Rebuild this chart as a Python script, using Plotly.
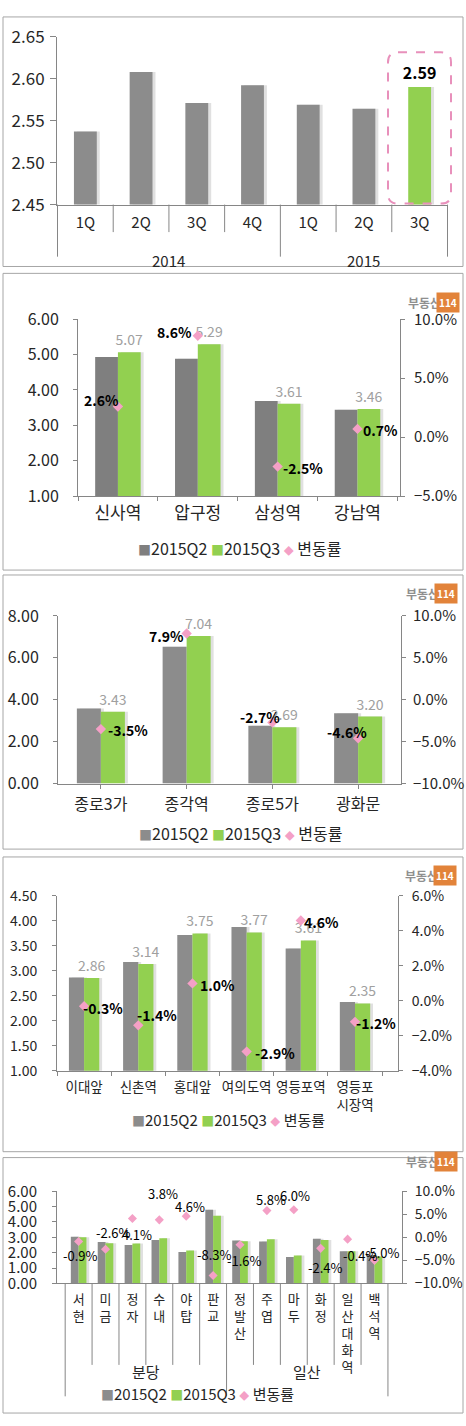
import plotly.graph_objects as go

W, H = 466, 1426
FONT = "Noto Sans CJK KR"
TXT = "#262626"
AXIS = "#868686"
BORDER = "#a6a6a6"
GRAY = "#8c8c8c"
GRAY_DARK = "#7f7f7f"
GREEN = "#92d050"
PINK = "#f4a0c6"
VALUE_GRAY = "#a0a0a0"
SHADOW = "rgba(0,0,0,0.12)"
HIGHLIGHT = "#e890bb"
LOGO_ORANGE = "#e2833a"


def px(x):
    # pixel from left -> paper x
    return x / W


def py(y):
    # pixel from top -> paper y
    return 1 - y / H


# ─────────────────────────────────────────────────────────────────────────────
# data
# ─────────────────────────────────────────────────────────────────────────────

# panel 1 : quarterly overall level
trend_keys = ["2014 1Q", "2014 2Q", "2014 3Q", "2014 4Q", "2015 1Q", "2015 2Q", "2015 3Q"]
trend_ticks = ["1Q", "2Q", "3Q", "4Q", "1Q", "2Q", "3Q"]
trend_years = ["2014", "2015"]
trend_values = [2.537, 2.608, 2.571, 2.592, 2.569, 2.564, 2.59]

# panel 2 : 강남권
gangnam_names = ["신사역", "압구정", "삼성역", "강남역"]
gangnam_q2 = [4.93, 4.88, 3.69, 3.44]
gangnam_q3 = [5.07, 5.29, 3.61, 3.46]
gangnam_rate = [2.6, 8.6, -2.5, 0.7]

# panel 3 : 도심권
dosim_names = ["종로3가", "종각역", "종로5가", "광화문"]
dosim_q2 = [3.58, 6.53, 2.76, 3.36]
dosim_q3 = [3.43, 7.04, 2.69, 3.20]
dosim_rate = [-3.5, 7.9, -2.7, -4.6]

# panel 4 : 신촌·여의도·영등포
west_names = ["이대앞", "신촌역", "홍대앞", "여의도역", "영등포역", "영등포시장역"]
west_ticks = ["이대앞", "신촌역", "홍대앞", "여의도역", "영등포역", "영등포<br>시장역"]
west_q2 = [2.87, 3.18, 3.72, 3.88, 3.45, 2.38]
west_q3 = [2.86, 3.14, 3.75, 3.77, 3.61, 2.35]
west_rate = [-0.3, -1.4, 1.0, -2.9, 4.6, -1.2]

# panel 5 : 분당 / 일산
bundang_names = ["서현", "미금", "정자", "수내", "야탑", "판교"]
ilsan_names = ["정발산", "주엽", "마두", "화정", "일산대화역", "백석역"]
new_groups = ["분당", "일산"]
new_names = bundang_names + ilsan_names
new_q2 = [3.04, 2.69, 2.50, 2.83, 2.05, 4.80, 2.80, 2.72, 1.72, 2.90, 2.10, 1.84]
new_q3 = [3.01, 2.62, 2.60, 2.94, 2.14, 4.40, 2.75, 2.88, 1.82, 2.83, 2.09, 1.75]
new_rate = [-0.9, -2.6, 4.1, 3.8, 4.6, -8.3, -1.6, 5.8, 6.0, -2.4, -0.4, -5.0]

# label nudges (px) for the rate labels: (xshift, yshift)
shift_gangnam = [(-16, 6), (-23, 4), (25, -1), (23, -1)]
shift_dosim = [(27, -1), (-20, -2), (-12, 5), (-11, 6)]
shift_west = [(19, -2), (19, 10), (25, -2), (28, -1), (21, -2), (21, -1)]
shift_new = [(2, -14), (8, 17), (5, -16), (4, 26), (4, 10), (1, 21),
             (4, -16), (4, 11), (1, 14), (5, -19), (13, -16), (8, 8)]

fig = go.Figure()
shapes = []
annotations = []

# ─────────────────────────────────────────────────────────────────────────────
# panel frames
# ─────────────────────────────────────────────────────────────────────────────
for top, bottom in [(3, 257), (264, 566), (571, 850), (858, 1158), (1164, 1424)]:
    shapes.append(dict(type="rect", xref="paper", yref="paper",
                       x0=px(3), x1=px(463), y0=py(bottom), y1=py(top),
                       line=dict(color=BORDER, width=1), layer="below"))

# ─────────────────────────────────────────────────────────────────────────────
# panel 1 : overall quarterly
# ─────────────────────────────────────────────────────────────────────────────
P1_X = (57, 448)
P1_Y = (23, 194)
bw1 = 0.41
cat1 = (P1_X[1] - P1_X[0]) / len(trend_keys)

fig.add_trace(go.Bar(x=trend_keys, y=trend_values, width=bw1, offset=-bw1 / 2 + 3 / cat1,
                     marker=dict(color=SHADOW, line_width=0), hoverinfo="skip"))
fig.add_trace(go.Bar(
    x=trend_keys, y=trend_values, width=bw1, offset=-bw1 / 2,
    marker=dict(color=[GREEN if k == trend_keys[-1] else GRAY for k in trend_keys], line_width=0),
    text=[f"<b>{v:.2f}</b>" if k == trend_keys[-1] else "" for k, v in zip(trend_keys, trend_values)],
    textposition="outside", constraintext="none",
    textfont=dict(size=16, color="#000000"), cliponaxis=False,
))

fig.update_layout(
    xaxis=dict(domain=[px(P1_X[0]), px(P1_X[1])], anchor="y", type="category",
               tickvals=trend_keys, ticktext=trend_ticks, ticks="", tickangle=0,
               showline=True, linecolor=AXIS, showgrid=False,
               tickfont=dict(size=15, color=TXT), ticklabelstandoff=4),
    yaxis=dict(domain=[py(P1_Y[1]), py(P1_Y[0])], anchor="x", range=[2.45, 2.65], dtick=0.05,
               tickformat=".2f", showline=True, linecolor=AXIS, ticks="outside", ticklen=6,
               tickcolor=AXIS, showgrid=False, zeroline=False,
               tickfont=dict(size=17, color=TXT), ticklabelstandoff=2),
)

# category / year dividers
year_of = [k.split()[0] for k in trend_keys]
for i in range(len(trend_keys) + 1):
    is_group = i in (0, len(trend_keys)) or year_of[i] != year_of[i - 1]
    shapes.append(dict(type="line", xref="x", yref="paper", x0=i - 0.5, x1=i - 0.5,
                       y0=py(247 if is_group else 222), y1=py(P1_Y[1]),
                       line=dict(color=AXIS, width=1)))
for yr in trend_years:
    idx = [i for i, y in enumerate(year_of) if y == yr]
    annotations.append(dict(x=sum(idx) / len(idx), y=py(238), xref="x", yref="paper",
                            text=yr, showarrow=False, font=dict(size=15, color=TXT)))

# pink dashed rounded box around the latest quarter
bx0, bx1, by0, by1, r = px(388), px(451), py(193), py(39), 10
rx, ry = r / W, r / H
shapes.append(dict(
    type="path", xref="paper", yref="paper",
    path=(f"M {bx0+rx},{by1} L {bx1-rx},{by1} Q {bx1},{by1} {bx1},{by1-ry} "
          f"L {bx1},{by0+ry} Q {bx1},{by0} {bx1-rx},{by0} L {bx0+rx},{by0} "
          f"Q {bx0},{by0} {bx0},{by0+ry} L {bx0},{by1-ry} Q {bx0},{by1} {bx0+rx},{by1} Z"),
    line=dict(color=HIGHLIGHT, width=2, dash="dash"),
))


# ─────────────────────────────────────────────────────────────────────────────
# panels 2-5 : Q2 / Q3 bars + change rate on the right axis
# ─────────────────────────────────────────────────────────────────────────────
def rate_panel(n, names, ticktext, q2, q3, rate, shifts, c):
    xa, yl, yr = f"x{n}", f"y{2*n-2}", f"y{2*n-1}"
    w = c["bar_w"]
    cat = (c["x1"] - c["x0"]) / len(names)
    sh = 3 / cat

    for vals, off in ((q2, -w), (q3, 0.0)):
        fig.add_trace(go.Bar(x=names, y=vals, width=w, offset=off + sh, xaxis=xa, yaxis=yl,
                             marker=dict(color=SHADOW, line_width=0), hoverinfo="skip"))
    fig.add_trace(go.Bar(x=names, y=q2, width=w, offset=-w, xaxis=xa, yaxis=yl, name="2015Q2",
                         marker=dict(color=c["q2_color"], line_width=0)))
    fig.add_trace(go.Bar(
        x=names, y=q3, width=w, offset=0.0, xaxis=xa, yaxis=yl, name="2015Q3",
        marker=dict(color=GREEN, line_width=0),
        text=[f"{v:.2f}" for v in q3] if c["values"] else None,
        textposition="outside", constraintext="none",
        textfont=dict(size=c["vsize"], color=VALUE_GRAY), cliponaxis=False,
    ))
    fig.add_trace(go.Scatter(x=names, y=rate, xaxis=xa, yaxis=yr, mode="markers", name="변동률",
                             marker=dict(symbol="diamond", size=c["msize"], color=PINK)))

    for nm, rv, (dx, dy) in zip(names, rate, shifts):
        txt = f"{rv:.1f}%"
        annotations.append(dict(x=nm, y=rv, xref=xa, yref=yr, showarrow=False,
                                text=f"<b>{txt}</b>" if c["bold"] else txt,
                                xshift=dx, yshift=dy,
                                font=dict(size=c["lsize"], color="#000000")))

    xaxis = dict(domain=[px(c["x0"]), px(c["x1"])], anchor=yl, type="category",
                 tickvals=names, ticktext=ticktext, tickangle=0, showline=True, linecolor=AXIS,
                 showgrid=False, tickfont=dict(size=c["xfont"], color=TXT),
                 ticklabelstandoff=c["xstand"])
    if c["xticks"] == "none":
        xaxis.update(ticks="")
    else:
        xaxis.update(ticks="outside", ticklen=4, tickcolor=AXIS, tickson=c["xticks"])
    axis_common = dict(showline=True, linecolor=AXIS, ticks="outside", ticklen=4, tickcolor=AXIS,
                       showgrid=False, zeroline=False)
    fig.update_layout({
        f"xaxis{n}": xaxis,
        f"yaxis{2*n-2}": dict(domain=[py(c["y1"]), py(c["y0"])], anchor=xa, range=c["lrange"],
                              dtick=c["ldtick"], tickformat=".2f",
                              tickfont=dict(size=c["yfont"], color=TXT),
                              ticklabelstandoff=c["ystand"], **axis_common),
        f"yaxis{2*n-1}": dict(anchor=xa, overlaying=yl, side="right", range=c["rrange"],
                              dtick=c["rdtick"], tickformat=".1f", ticksuffix="%",
                              tickfont=dict(size=c["rfont"], color=TXT),
                              ticklabelstandoff=c["rstand"], **axis_common),
    })


def legend_note(cx, cy, size, q2_color):
    annotations.append(dict(
        x=px(cx), y=py(cy), xref="paper", yref="paper", showarrow=False,
        font=dict(size=size, color=TXT),
        text=(f"<span style='color:{q2_color};font-size:13px'>■</span>2015Q2 "
              f"<span style='color:{GREEN};font-size:13px'>■</span>2015Q3 "
              f"<span style='color:{PINK};font-size:10px'>◆</span> 변동률"),
    ))


def logo(x_right, cy):
    annotations.append(dict(x=px(x_right - 17), y=py(cy), xref="paper", yref="paper",
                            xanchor="right", showarrow=False, text="<b>부동산</b>",
                            font=dict(size=12, color="#8f8f8f")))
    annotations.append(dict(x=px(x_right), y=py(cy), xref="paper", yref="paper",
                            xanchor="right", showarrow=False, text="<b>114</b>",
                            bgcolor=LOGO_ORANGE, borderpad=2,
                            font=dict(size=10, color="#ffffff")))


rate_panel(2, gangnam_names, gangnam_names, gangnam_q2, gangnam_q3, gangnam_rate, shift_gangnam, dict(
    x0=78, x1=400, y0=310.7, y1=490.7, bar_w=0.285, q2_color=GRAY_DARK,
    lrange=[1, 6], ldtick=1, rrange=[-5, 10], rdtick=5,
    xfont=17, yfont=16, rfont=15, xstand=2, ystand=11, rstand=6,
    values=True, vsize=14, bold=True, lsize=14, msize=8, xticks="boundaries"))
legend_note(240, 544, 16, GRAY_DARK)
logo(460, 283)

rate_panel(3, dosim_names, dosim_names, dosim_q2, dosim_q3, dosim_rate, shift_dosim, dict(
    x0=58, x1=401, y0=612.7, y1=783.3, bar_w=0.28, q2_color=GRAY,
    lrange=[0, 8], ldtick=2, rrange=[-10, 10], rdtick=5,
    xfont=16, yfont=16, rfont=15, xstand=2, ystand=11, rstand=4,
    values=True, vsize=14, bold=True, lsize=14, msize=8, xticks="labels"))
legend_note(241, 834, 16, GRAY)
logo(458, 590)

rate_panel(4, west_names, west_ticks, west_q2, west_q3, west_rate, shift_west, dict(
    x0=57, x1=398, y0=897.7, y1=1075.7, bar_w=0.28, q2_color=GRAY,
    lrange=[1, 4.5], ldtick=0.5, rrange=[-4, 6], rdtick=2,
    xfont=13.5, yfont=14, rfont=14, xstand=4, ystand=12, rstand=6,
    values=True, vsize=14, bold=True, lsize=14, msize=8, xticks="boundaries"))
legend_note(228, 1138, 15, GRAY)
logo(457, 877)

rate_panel(5, new_names, ["<br>".join(nm) for nm in new_names], new_q2, new_q3, new_rate, shift_new, dict(
    x0=57, x1=402, y0=1198.3, y1=1292, bar_w=0.29, q2_color=GRAY,
    lrange=[0, 6], ldtick=1, rrange=[-10, 10], rdtick=5,
    xfont=13, yfont=15, rfont=14, xstand=4, ystand=12, rstand=5,
    values=False, vsize=13, bold=False, lsize=13, msize=7, xticks="none"))
legend_note(197, 1417, 15, GRAY)
logo(458, 1179)

# panel 5 category table: inner separators + 분당 / 일산 dividers
P5_AXIS_Y = 1292
for i in range(len(new_names) + 1):
    is_group = i in (0, len(bundang_names), len(new_names))
    shapes.append(dict(type="line", xref="x5", yref="paper", x0=i - 0.5, x1=i - 0.5,
                       y0=py(1407 if is_group else 1375), y1=py(P5_AXIS_Y),
                       line=dict(color=AXIS, width=1)))
for g, members in zip(new_groups, (bundang_names, ilsan_names)):
    idx = [new_names.index(m) for m in members]
    annotations.append(dict(x=sum(idx) / len(idx), y=py(1394), xref="x5", yref="paper",
                            text=g, showarrow=False, font=dict(size=15, color=TXT)))

fig.update_layout(
    width=W, height=H,
    margin=dict(l=0, r=0, t=0, b=0),
    paper_bgcolor="white", plot_bgcolor="white",
    font=dict(family=FONT, color=TXT),
    barmode="overlay",
    showlegend=False,
    shapes=shapes,
    annotations=annotations,
)

# the page's default body margin would push the figure 8px down/right
fig.write_html("out.html", config={"displayModeBar": False},
               post_script="document.body.style.margin = '0';")
